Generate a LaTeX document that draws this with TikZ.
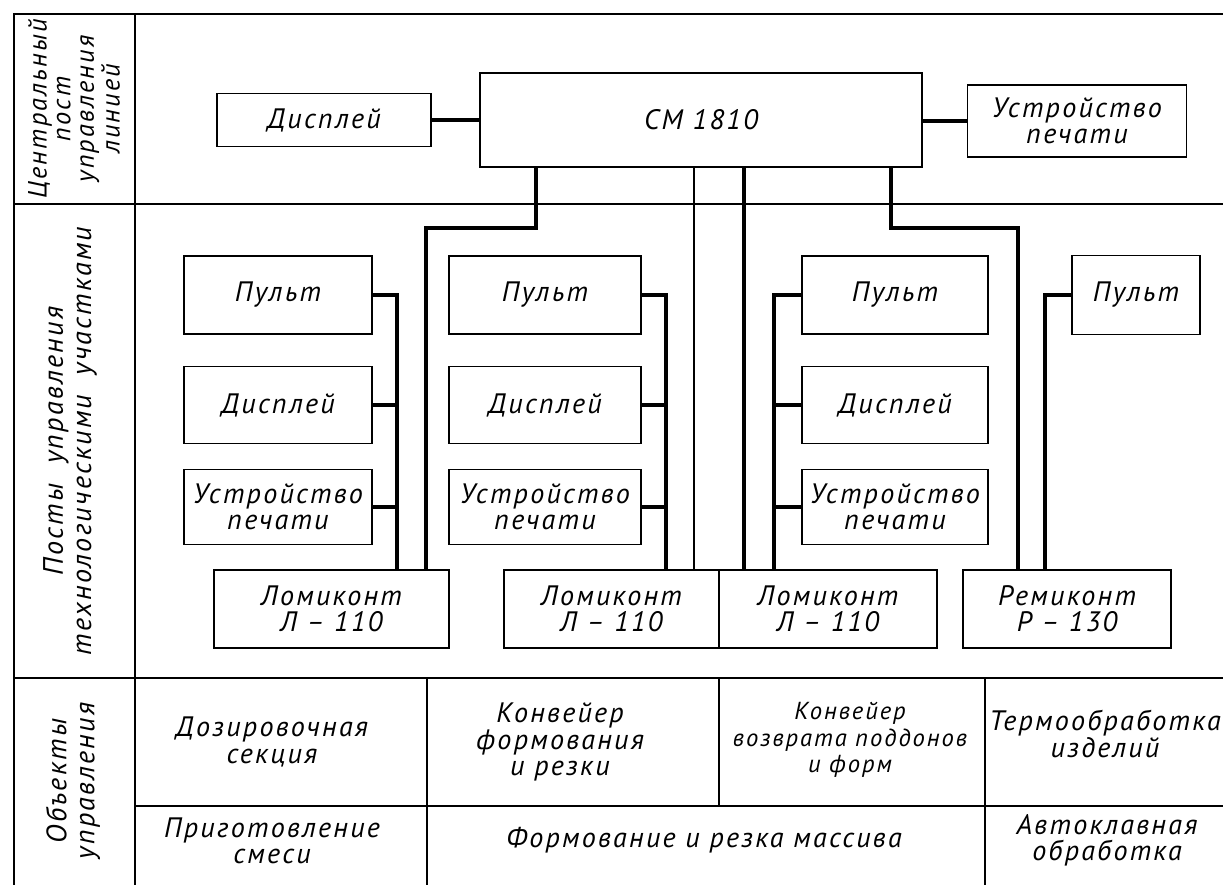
\documentclass[tikz,border=0pt]{standalone}
\usepackage{fontspec}
\setmainfont{PT Sans}[LetterSpace=8]
\usetikzlibrary{positioning}
\tikzset{
  bx/.style={draw, line width=1.1pt, inner sep=0pt, outer sep=0pt, align=center},
  frm/.style={line width=1.1pt},
  lnk/.style={line width=2.2pt},
  thn/.style={line width=1.5pt},
  lbl/.style={rotate=90, align=center, font=\fontsize{16}{16}\selectfont\itshape},
  cell/.style={align=center},
}

\begin{document}
\begin{tikzpicture}[x=0.2mm, y=-0.2mm, font=\fontsize{16}{15}\selectfont\itshape]
    \useasboundingbox (0,0) rectangle (1223,885);
    % table frame
    \draw[frm] (1223,14) -- (14,14) -- (14,885);
    \draw[frm] (135,14) -- (135,885);
    \draw[frm] (14,204) -- (1223,204);
    \draw[frm] (14,678) -- (1223,678);
    \draw[frm] (135,806) -- (1223,806);
    \draw[frm] (427,678) -- (427,885);
    \draw[frm] (719,678) -- (719,806);
    \draw[frm] (985,678) -- (985,885);
    \node[lbl, font=\fontsize{15}{13.5}\selectfont\itshape] (hc) at (74,109) {Центральный\\пост\\управления\\линией};
    \node[lbl] (hm) at (70,441) {Посты \ управления\\технологическими \ участками};
    \node[lbl] (hb) at (73,781) {Объекты\\управления};
    % central post
    \node[bx, minimum width=42.8mm, minimum height=10.6mm] (dsp) at (324,120) {Дисплей};
    \node[bx, minimum width=88.4mm, minimum height=18.8mm] (cm) at (701,120) {СМ 1810};
    \node[bx, minimum width=43.8mm, minimum height=14.4mm] (prn) at (1077,121) {Устройство\\печати};
    \draw[lnk] (dsp.east) -- (dsp.east -| cm.west);
    \draw[lnk] (cm.east |- prn.west) -- (prn.west);
    % section posts
    \foreach \c/\x/\w in {1/278/37.6, 2/545/38.4, 3/895/37.2} {
      \node[bx, minimum width=\w mm, minimum height=15.6mm] (p\c) at (\x,295) {Пульт};
      \node[bx, minimum width=\w mm, minimum height=15.4mm] (d\c) at (\x,405) {Дисплей};
      \node[bx, minimum width=\w mm, minimum height=15mm] (u\c) at (\x,507) {Устройство\\печати};
    }
    \node[bx, minimum width=25.6mm, minimum height=15.8mm] (p4) at (1136,295) {Пульт};
    \node[bx, minimum width=47mm, minimum height=15.6mm] (l1) at (331.5,609) {Ломиконт\\Л – 110};
    \node[bx, minimum width=43mm, minimum height=15.6mm] (l2) at (611.5,609) {Ломиконт\\Л – 110};
    \node[bx, minimum width=43.6mm, minimum height=15.6mm] (l3) at (828,609) {Ломиконт\\Л – 110};
    \node[bx, minimum width=41.6mm, minimum height=15.6mm] (rk) at (1067,609) {Ремиконт\\Р – 130};
    \coordinate (b1) at (397,0);
    \coordinate (b2) at (666,0);
    \coordinate (b3) at (774,0);
    \coordinate (b4) at (1045,0);
    \foreach \c/\s/\t in {1/east/l1, 2/east/l2, 3/west/l3} {
      \draw[lnk] (p\c.\s) -- (p\c.\s -| b\c) -- (b\c |- \t.north);
      \draw[lnk] (d\c.\s) -- (d\c.\s -| b\c);
      \draw[lnk] (u\c.\s) -- (u\c.\s -| b\c);
    }
    \draw[lnk] (p4.west) -- (p4.west -| b4) -- (b4 |- rk.north);
    % links to the computer
    \coordinate (j1) at (536,228);
    \coordinate (j2) at (426,228);
    \coordinate (j3) at (694,0);
    \coordinate (j4) at (744,0);
    \coordinate (j5) at (891,228);
    \coordinate (j6) at (1018,228);
    \draw[lnk] (j1 |- cm.south) -- (j1) -- (j2) -- (j2 |- l1.north);
    \draw[thn] (j3 |- cm.south) -- (j3 |- l2.north);
    \draw[lnk] (j4 |- cm.south) -- (j4 |- l3.north);
    \draw[lnk] (j5 |- cm.south) -- (j5) -- (j6) -- (j6 |- rk.north);
    % controlled objects
    \node[cell] (o1) at (272,742) {Дозировочная\\секция};
    \node[cell] (o2) at (560,742) {Конвейер\\формования\\и резки};
    \node[cell, font=\fontsize{14}{15}\selectfont\itshape] (o3) at (850,740) {Конвейер\\возврата поддонов\\и форм};
    \node[cell] (o4) at (1105,734) {Термообработка\\изделий};
    \node[cell] (o5) at (272,841) {Приготовление\\смеси};
    \node[cell] (o6) at (704,840) {Формование и резка массива};
    \node[cell] (o7) at (1107,840) {Автоклавная\\обработка};
\end{tikzpicture}
\end{document}
